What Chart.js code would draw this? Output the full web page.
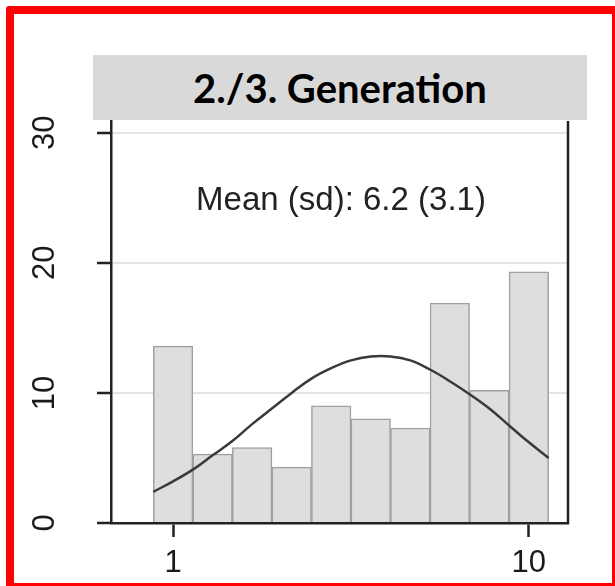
<!DOCTYPE html>
<html>
<head>
<meta charset="utf-8">
<script src="https://cdn.jsdelivr.net/npm/chart.js@4.4.1/dist/chart.umd.min.js"></script>
<style>
  html, body { margin: 0; padding: 0; background: #fff; overflow: hidden; }
  #wrap { position: relative; width: 615px; height: 586px; }
  #chart { position: absolute; left: 0; top: 0; }
  #frame {
    position: absolute; left: 6px; top: 6px; width: 614px; height: 585px;
    box-sizing: border-box; border: 8px solid #ff0000; border-radius: 3px;
  }
  #title {
    position: absolute; left: 93px; top: 55px; width: 494px; height: 65px;
    background: #d9d9d9; display: flex; align-items: center; justify-content: center;
    font-family: Lato, "Open Sans", sans-serif; font-weight: 700; font-size: 40px; color: #000;
  }
  #mean {
    position: absolute; left: 141px; top: 182px; width: 400px; text-align: center;
    font-family: "Liberation Sans", Arial, sans-serif; font-size: 33px; line-height: 33px; color: #222;
  }
</style>
</head>
<body>
<div id="wrap">
  <canvas id="chart" width="615" height="586"></canvas>
  <div id="title">2./3. Generation</div>
  <div id="mean">Mean (sd): 6.2 (3.1)</div>
  <div id="frame"></div>
</div>
<script>
// histogram bins (percent of cases)
const binCenters = [1, 2, 3, 4, 5, 6, 7, 8, 9, 10];
const percents = [13.6, 5.3, 5.8, 4.3, 9.0, 8.0, 7.3, 16.9, 10.2, 19.3];

// overlaid curve
const curveX = [0.5, 1, 1.5, 2, 2.5, 3, 3.5, 4, 4.5, 5, 5.5, 6, 6.5, 7, 7.5, 8, 8.5, 9, 9.5, 10, 10.5];
const curveY = [2.4, 3.2, 4.1, 5.2, 6.3, 7.6, 8.8, 10.0, 11.1, 11.9, 12.5, 12.8, 12.8, 12.5, 11.8, 10.9, 9.9, 8.8, 7.5, 6.2, 5.0];

// tick labels
const xTicks = [1, 10];
const yTicks = [0, 10, 20, 30];

const font = "'Liberation Sans', Arial, sans-serif";

const rightLine = {
    id: 'rightLine',
    afterDatasetsDraw(chart) {
        const { ctx, chartArea } = chart;
        ctx.save();
        ctx.strokeStyle = '#222';
        ctx.lineWidth = 2.5;
        ctx.beginPath();
        ctx.moveTo(chartArea.right, chartArea.top);
        ctx.lineTo(chartArea.right, chartArea.bottom + 1);
        ctx.stroke();
        ctx.restore();
    }
};

new Chart(document.querySelector('#chart').getContext('2d'), {
    type: 'bar',
    data: {
        datasets: [
            {
                type: 'line',
                data: curveX.map((x, i) => ({ x: x, y: curveY[i] })),
                borderColor: '#3a3a3a',
                borderWidth: 2.5,
                pointRadius: 0,
                tension: 0.4,
                fill: false,
                order: 0
            },
            {
                type: 'bar',
                data: binCenters.map((x, i) => ({ x: x, y: percents[i] })),
                backgroundColor: '#dedede',
                borderColor: '#a0a0a0',
                borderWidth: 1.5,
                barPercentage: 1,
                categoryPercentage: 1,
                order: 1
            }
        ]
    },
    options: {
        responsive: false,
        animation: false,
        devicePixelRatio: 1,
        layout: { padding: { left: 0, right: 47, top: 121, bottom: 0 } },
        plugins: { legend: { display: false }, tooltip: { enabled: false } },
        scales: {
            x: {
                type: 'linear',
                min: -0.57,
                max: 10.99,
                offset: false,
                afterBuildTicks: s => { s.ticks = xTicks.map(v => ({ value: v })); },
                afterFit: s => { s.height = 63; },
                grid: { drawOnChartArea: false, offset: false, tickLength: 14, tickColor: '#222', tickWidth: 2.5 },
                border: { color: '#222', width: 2.5 },
                ticks: { padding: 8, color: '#1a1a1a', font: { family: font, size: 31 }, maxRotation: 0 }
            },
            y: {
                min: 0,
                max: 30.9,
                afterBuildTicks: s => { s.ticks = yTicks.map(v => ({ value: v })); },
                afterFit: s => { s.width = 111; },
                grid: {
                    color: c => (c.tick && c.tick.value === 0) ? 'rgba(0,0,0,0)' : '#e4e4e4',
                    lineWidth: 2,
                    tickLength: 14,
                    tickColor: '#222',
                    tickWidth: 2.5
                },
                border: { color: '#222', width: 2.5 },
                ticks: {
                    minRotation: 90, maxRotation: 90, crossAlign: 'center', padding: 34,
                    color: '#1a1a1a', font: { family: font, size: 31 }
                }
            }
        }
    },
    plugins: [rightLine]
});
</script>
</body>
</html>
